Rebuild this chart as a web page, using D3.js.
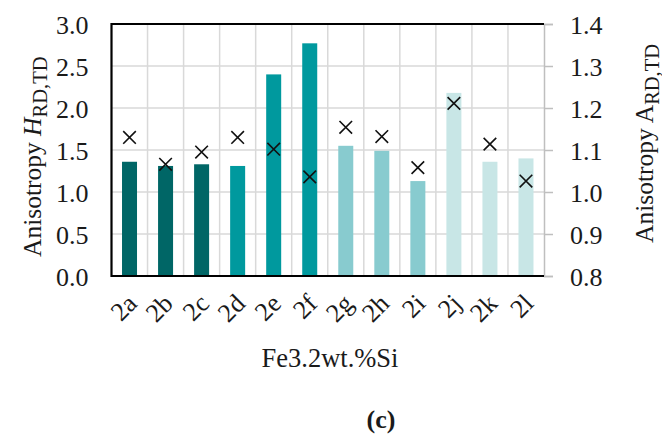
<!DOCTYPE html>
<html>
<head>
<meta charset="utf-8">
<script src="https://cdn.jsdelivr.net/npm/d3@7"></script>
<style>
  body{margin:0;background:#fff;}
  svg text{font-family:'Liberation Serif','Times New Roman','DejaVu Serif',serif !important;fill:#1a1a1a;}
</style>
</head>
<body>
<script>
// samples
const samples=["2a","2b","2c","2d","2e","2f","2g","2h","2i","2j","2k","2l"];
// H_RD,TD (bars, left axis)
const hValues=[1.36,1.31,1.33,1.31,2.40,2.77,1.55,1.49,1.13,2.18,1.36,1.40];
// A_RD,TD (crosses, right axis)
const aValues=[1.130,1.066,1.095,1.130,1.102,1.036,1.154,1.132,1.058,1.211,1.114,1.026];
const barColors=["#006666","#006666","#006666","#00999e","#00999e","#00999e",
                 "#88cbcf","#88cbcf","#88cbcf","#c8e6e6","#c8e6e6","#c8e6e6"];
const leftTicks=[0,0.5,1,1.5,2,2.5,3];
const rightTicks=[0.8,0.9,1.0,1.1,1.2,1.3,1.4];

const W=662,H=435;
const m={left:111.5,right:118,top:24,bottom:159};
const iw=W-m.left-m.right, ih=H-m.top-m.bottom;

const svg=d3.select('body').append('svg').attr('width',W).attr('height',H);
const g=svg.append('g').attr('transform',`translate(${m.left},${m.top})`);

const x=d3.scaleBand().domain(samples).range([0,iw]);
const yL=d3.scaleLinear().domain([0,3]).range([ih,0]);
const yR=d3.scaleLinear().domain([0.8,1.4]).range([ih,0]);

// grid
g.selectAll('.hgrid').data(leftTicks).enter().append('line')
  .attr('x1',0).attr('x2',iw).attr('y1',d=>yL(d)).attr('y2',d=>yL(d))
  .attr('stroke','#d9d9d9').attr('stroke-width',1.5);
g.selectAll('.vgrid').data(samples.slice(1)).enter().append('line')
  .attr('x1',d=>x(d)).attr('x2',d=>x(d)).attr('y1',0).attr('y2',ih)
  .attr('stroke','#d9d9d9').attr('stroke-width',1.5);

// bars
const bw=15;
g.selectAll('rect.bar').data(samples).enter().append('rect')
  .attr('class','bar')
  .attr('x',d=>x(d)+x.bandwidth()/2-bw/2)
  .attr('y',(d,i)=>yL(hValues[i]))
  .attr('width',bw)
  .attr('height',(d,i)=>ih-yL(hValues[i]))
  .attr('fill',(d,i)=>barColors[i]);

// crosses
const cs=6.3;
const cross=g.selectAll('g.cross').data(samples).enter().append('g')
  .attr('transform',(d,i)=>`translate(${x(d)+x.bandwidth()/2},${yR(aValues[i])})`);
cross.append('path').attr('d',`M${-cs},${-cs}L${cs},${cs}M${-cs},${cs}L${cs},${-cs}`)
  .attr('stroke','#111').attr('stroke-width',1.6).attr('fill','none');

// right axis (gray)
const rAxis=g.append('g').attr('transform',`translate(${iw},0)`)
  .call(d3.axisRight(yR).tickValues(rightTicks).tickSize(9).tickPadding(17).tickFormat(d3.format('.1f')));
rAxis.attr('font-family',null);
rAxis.select('.domain').attr('stroke','#bfbfbf').attr('stroke-width',1.5);
rAxis.selectAll('.tick line').attr('stroke','#bfbfbf').attr('stroke-width',1.5);
rAxis.selectAll('.tick text').attr('font-size',26).attr('fill','#1a1a1a').attr('dy','0.35em');

// left axis
const lAxis=g.append('g')
  .call(d3.axisLeft(yL).tickValues(leftTicks).tickSize(0).tickPadding(23).tickFormat(d3.format('.1f')));
lAxis.attr('font-family',null);
lAxis.select('.domain').remove();
lAxis.selectAll('.tick text').attr('font-size',26).attr('fill','#1a1a1a').attr('dy','0.35em');

// black frame: left, top, bottom
g.append('path').attr('d',`M${iw},0H0V${ih}H${iw}`)
  .attr('fill','none').attr('stroke','#000').attr('stroke-width',2.2);

// x labels
const xAxis=g.append('g').attr('transform',`translate(0,${ih})`)
  .call(d3.axisBottom(x).tickSize(0).tickPadding(0));
xAxis.attr('font-family',null);
xAxis.select('.domain').remove();
xAxis.selectAll('.tick text')
  .attr('font-size',26).attr('fill','#1a1a1a')
  .attr('text-anchor','end').attr('dy',0)
  .attr('transform','translate(9,29) rotate(-45)');

// axis titles
const lt=svg.append('text').attr('transform','translate(41,257) rotate(-90)').attr('font-size',25.5);
lt.append('tspan').text('Anisotropy ');
lt.append('tspan').attr('font-style','italic').text('H');
lt.append('tspan').attr('font-size',20.5).attr('dy',6).text('RD,TD');

const rt=svg.append('text').attr('transform','translate(653,243) rotate(-90)').attr('font-size',25.5);
rt.append('tspan').text('Anisotropy A');
rt.append('tspan').attr('font-size',20.5).attr('dy',6).text('RD,TD');

svg.append('text').attr('x',330).attr('y',367).attr('text-anchor','middle')
  .attr('font-size',26.5).text('Fe3.2wt.%Si');

svg.append('text').attr('x',381).attr('y',428).attr('text-anchor','middle')
  .attr('font-size',26).attr('font-weight','bold').text('(c)');
</script>
</body>
</html>
